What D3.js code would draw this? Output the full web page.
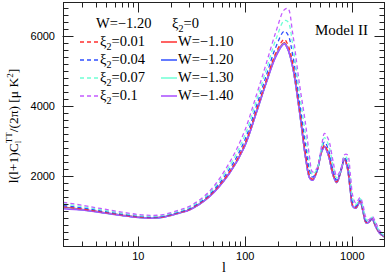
<!DOCTYPE html>
<html>
<head>
<meta charset="utf-8">
<script src="https://cdn.jsdelivr.net/npm/d3@7"></script>
<style>
  body { margin: 0; background: #fff; }
  svg { display: block; }
</style>
</head>
<body>
<div id="chart"></div>
<script>
// multipole grid shared by all curves
var ells = [2, 3, 4, 5, 7, 10, 13, 17, 24, 30, 46, 71, 98, 126, 156, 194, 231, 250, 277, 320,
  369, 400, 425, 470, 515, 550, 600, 660, 715, 780, 845, 900, 960, 1010, 1080, 1183, 1260,
  1346, 1430, 1532, 1650, 1795, 2000];

// xi2 = 0, varying W (solid)
var solidW110 = [1120, 1060, 1005, 960, 895, 835, 815, 840, 960, 1050, 1430, 2100, 2860, 3810, 4670, 5480, 5820, 5650, 5150, 3900,
  2480, 1960, 1900, 2180, 2700, 2860, 2600, 2050, 1830, 2150, 2500, 2250, 1600, 1150, 1100, 1290, 1000,
  680, 700, 790, 580, 390, 275];
var solidW120 = [1100, 1050, 1000, 955, 890, 832, 813, 838, 958, 1048, 1425, 2095, 2850, 3800, 4660, 5460, 5800, 5640, 5140, 3895,
  2475, 1955, 1895, 2175, 2695, 2850, 2595, 2048, 1828, 2145, 2490, 2245, 1598, 1148, 1098, 1285, 998,
  678, 698, 788, 578, 388, 274];
var solidW130 = [1090, 1045, 995, 952, 888, 830, 812, 836, 955, 1045, 1420, 2090, 2845, 3795, 4655, 5450, 5790, 5635, 5135, 3890,
  2472, 1952, 1892, 2172, 2692, 2845, 2592, 2046, 1826, 2142, 2485, 2242, 1596, 1146, 1096, 1282, 996,
  676, 696, 786, 576, 386, 273];
var solidW140 = [1080, 1040, 990, 950, 885, 828, 810, 834, 952, 1042, 1415, 2085, 2840, 3790, 4650, 5440, 5785, 5630, 5130, 3885,
  2470, 1950, 1890, 2170, 2690, 2840, 2590, 2045, 1825, 2140, 2480, 2240, 1595, 1145, 1095, 1280, 995,
  675, 695, 785, 575, 385, 272];

// W = -1.20, varying xi2 (dashed)
var dashXi001 = [1134, 1072, 1016, 970, 904, 843, 823, 847, 968, 1060, 1444, 2129, 2902, 3858, 4723, 5547, 5914, 5765, 5245, 3977,
  2574, 2016, 1923, 2187, 2715, 2897, 2645, 2090, 1849, 2155, 2512, 2287, 1645, 1180, 1114, 1301, 1018,
  694, 706, 797, 592, 397, 280];
var dashXi004 = [1169, 1102, 1042, 995, 927, 863, 841, 865, 988, 1083, 1479, 2202, 3007, 3978, 4856, 5715, 6149, 6053, 5483, 4170,
  2809, 2156, 1981, 2205, 2753, 2990, 2758, 2190, 1897, 2168, 2542, 2380, 1758, 1255, 1149, 1329, 1063,
  729, 721, 815, 622, 415, 291];
var dashXi007 = [1214, 1140, 1075, 1027, 955, 889, 865, 887, 1014, 1114, 1524, 2294, 3141, 4132, 5025, 5929, 6450, 6421, 5787, 4416,
  3110, 2335, 2054, 2227, 2801, 3108, 2902, 2318, 1957, 2184, 2580, 2498, 1902, 1351, 1194, 1364, 1121,
  774, 740, 837, 660, 437, 305];
var dashXi010 = [1260, 1180, 1110, 1060, 985, 915, 890, 910, 1040, 1145, 1570, 2390, 3280, 4290, 5200, 6150, 6760, 6800, 6100, 4670,
  3420, 2520, 2130, 2250, 2850, 3230, 3050, 2450, 2020, 2200, 2620, 2620, 2050, 1450, 1240, 1400, 1180,
  820, 760, 860, 700, 460, 320];

var yTicks = [2000, 4000, 6000];
var xTicks = [10, 100, 1000];

var series = [
  {vals: solidW110, color: "#ff2f2f", dash: null, label: "W=\u22121.10"},
  {vals: solidW120, color: "#2f4fff", dash: null, label: "W=\u22121.20"},
  {vals: solidW130, color: "#6fffd4", dash: null, label: "W=\u22121.30"},
  {vals: solidW140, color: "#a94dff", dash: null, label: "W=\u22121.40"},
  {vals: dashXi001, color: "#ff2f2f", dash: "4,3", label: "0.01"},
  {vals: dashXi004, color: "#2f4fff", dash: "4,3", label: "0.04"},
  {vals: dashXi007, color: "#6fffd4", dash: "4,3", label: "0.07"},
  {vals: dashXi010, color: "#c35bff", dash: "4,3", label: "0.1"}
];

var W = 388, H = 277;
var pL = 63.5, pR = 384.5, pT = 2.5, pB = 246.5;

var svg = d3.select("#chart").append("svg")
  .attr("width", W).attr("height", H);

var x = d3.scaleLog().domain([2, 2000]).range([pL, pR]);
var y = d3.scaleLinear().domain([0, 6970]).range([pB, pT]);

var plot = svg.append("g");
plot.append("clipPath").attr("id", "clip")
  .append("rect").attr("x", pL).attr("y", pT)
  .attr("width", pR - pL).attr("height", pB - pT);

var line = d3.line()
  .x(function(d) { return x(d[0]); })
  .y(function(d) { return y(d[1]); })
  .curve(d3.curveCatmullRom.alpha(0.5));

series.forEach(function(s) {
  plot.append("path")
    .datum(ells.map(function(l, i) { return [l, s.vals[i]]; }))
    .attr("clip-path", "url(#clip)")
    .attr("d", line)
    .attr("fill", "none")
    .attr("stroke", s.color)
    .attr("stroke-width", s.dash ? 1.3 : 1.5)
    .attr("stroke-dasharray", s.dash);
});

// frame and ticks
var axisColor = "#222";
svg.append("rect")
  .attr("x", pL).attr("y", pT)
  .attr("width", pR - pL).attr("height", pB - pT)
  .attr("fill", "none").attr("stroke", axisColor).attr("stroke-width", 1);

var minorX = [];
[1, 10, 100, 1000].forEach(function(dec) {
  for (var k = 2; k <= 9; k++) {
    var v = dec * k;
    if (v > 2 && v < 2000 && xTicks.indexOf(v) < 0) minorX.push(v);
  }
});
var minorY = d3.range(200, 6970, 200).filter(function(v) { return yTicks.indexOf(v) < 0; });

function tick(x1, y1, x2, y2) {
  svg.append("line").attr("x1", x1).attr("y1", y1).attr("x2", x2).attr("y2", y2)
    .attr("stroke", axisColor).attr("stroke-width", 1);
}
minorX.forEach(function(v) {
  var px = Math.round(x(v)) + 0.5;
  tick(px, pB, px, pB - 5);
  tick(px, pT, px, pT + 5);
});
xTicks.forEach(function(v) {
  var px = Math.round(x(v)) + 0.5;
  tick(px, pB, px, pB - 10);
  tick(px, pT, px, pT + 10);
});
minorY.forEach(function(v) {
  var py = Math.round(y(v)) + 0.5;
  tick(pL, py, pL + 5, py);
  tick(pR, py, pR - 5, py);
});
yTicks.forEach(function(v) {
  var py = Math.round(y(v)) + 0.5;
  tick(pL - 1, py, pL + 10, py);
  tick(pR, py, pR - 10, py);
});

var sans = "'Liberation Sans', Arial, sans-serif";
var serif = "'Liberation Serif', 'Times New Roman', serif";

svg.selectAll(".xl").data(xTicks).enter().append("text")
  .attr("x", function(d) { return x(d); }).attr("y", 260)
  .attr("text-anchor", "middle").attr("font-family", sans).attr("font-size", 11)
  .text(function(d) { return d; });
svg.selectAll(".yl").data(yTicks).enter().append("text")
  .attr("x", 55).attr("y", function(d) { return y(d) + 4; })
  .attr("text-anchor", "end").attr("font-family", sans).attr("font-size", 11)
  .text(function(d) { return d; });

// axis titles
svg.append("text").attr("x", 224).attr("y", 272)
  .attr("font-family", serif).attr("font-size", 14).attr("text-anchor", "middle").text("l");

var yt = svg.append("text")
  .attr("transform", "translate(18,126) rotate(-90)")
  .attr("font-family", serif).attr("font-size", 13.5).attr("text-anchor", "middle");
yt.append("tspan").text("l(l+1)C");
yt.append("tspan").attr("font-size", 9).attr("dy", 3).text("l");
yt.append("tspan").attr("font-size", 9).attr("dx", -2.5).attr("dy", -9).text("TT");
yt.append("tspan").attr("dy", 6).text("/(2\u03c0) [\u03bc K");
yt.append("tspan").attr("font-size", 9).attr("dy", -5).text("2");
yt.append("tspan").attr("dy", 5).text("]");

svg.append("text").attr("x", 315).attr("y", 35)
  .attr("font-family", serif).attr("font-size", 15).text("Model II");

// legend
var rows = [46, 64, 82, 100];
var fs = 14.5;
svg.append("text").attr("x", 96).attr("y", 28)
  .attr("font-family", serif).attr("font-size", fs).text("W=\u22121.20");
var hdr = svg.append("text").attr("x", 172).attr("y", 28)
  .attr("font-family", serif).attr("font-size", fs);
hdr.append("tspan").text("\u03be");
hdr.append("tspan").attr("font-size", 10).attr("dy", 4).text("2");
hdr.append("tspan").attr("dy", -4).text("=0");

series.forEach(function(s, i) {
  var r = rows[i % 4];
  var dashed = !!s.dash;
  var lx1 = dashed ? 80 : 161, lx2 = dashed ? 98 : 177;
  svg.append("line").attr("x1", lx1).attr("x2", lx2)
    .attr("y1", r - 4).attr("y2", r - 4)
    .attr("stroke", s.color).attr("stroke-width", dashed ? 1.3 : 1.5)
    .attr("stroke-dasharray", s.dash);
  var t = svg.append("text").attr("x", dashed ? 100 : 178).attr("y", r)
    .attr("font-family", serif).attr("font-size", fs);
  if (dashed) {
    t.append("tspan").text("\u03be");
    t.append("tspan").attr("font-size", 10).attr("dy", 4).text("2");
    t.append("tspan").attr("dy", -4).text("=" + s.label);
  } else {
    t.text(s.label);
  }
});
</script>
</body>
</html>
